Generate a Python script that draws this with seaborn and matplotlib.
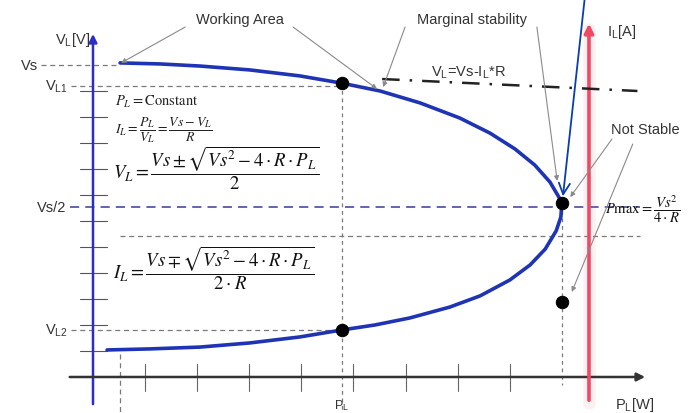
import matplotlib
matplotlib.use("Agg")
import matplotlib.pyplot as plt
import pandas as pd
import seaborn as sns

sns.set_theme(style="white")
plt.rcParams["font.family"] = ["Liberation Sans", "DejaVu Sans"]
plt.rcParams["mathtext.fontset"] = "stix"

# P-V nose curve of a source Vs feeding a constant-power load through R.
# P_L in tick units along the power axis, V_L in tick units along the voltage axis.
upper_p = [0.52, 1.29, 2.05, 3.01, 3.97, 4.78, 5.51, 6.28, 7.04, 7.62, 8.10, 8.48, 8.77, 8.93, 9.00]
upper_v = [12.08, 12.04, 11.96, 11.81, 11.58, 11.30, 11.00, 10.54, 9.96, 9.38, 8.77, 8.15, 7.50, 6.96, 6.70]
lower_p = [9.00, 8.98, 8.89, 8.68, 8.39, 8.00, 7.43, 6.85, 6.08, 5.41, 4.78, 3.97, 3.01, 2.05, 1.09, 0.27]
lower_v = [6.70, 6.15, 5.62, 4.92, 4.31, 3.73, 3.12, 2.69, 2.27, 2.00, 1.81, 1.54, 1.31, 1.15, 1.08, 1.04]

# characteristic levels
vs_level = 12.0
vl1_level = 11.2
vs_half = 6.54
aux_level = 5.42
vl2_level = 1.81
p_start = 0.52
p_load = 4.78
p_max = 9.0
i_axis_p = 9.52

# marked operating points: upper/lower solutions at P_L, nose, unstable point
op_p = [4.78, 4.78, 9.00, 9.00]
op_v = [11.30, 1.81, 6.70, 2.88]

p_ticks = [1, 2, 3, 4, 5, 6, 7, 8]
v_ticks = [1, 2, 3, 4, 5, 6, 7, 8, 9, 10, 11]

curve = pd.DataFrame({
    "P": upper_p + lower_p,
    "V": upper_v + lower_v,
    "order": range(len(upper_p) + len(lower_p)),
})
points = pd.DataFrame({"P": op_p, "V": op_v})

fig = plt.figure(figsize=(6.96, 4.14), dpi=100)
ax = fig.add_axes([0, 0, 1, 1])

gray = "#7a7a7a"
lead = "#8a8a8a"
blue_axis = "#2c2cc8"
curve_col = "#1e34b4"
red = "#ee4a64"

# reference levels
ax.plot([-1.0, p_start], [vs_level] * 2, ls=(0, (4, 3)), color=gray, lw=0.9, zorder=1)
ax.plot([-0.42, p_load], [vl1_level] * 2, ls=(0, (4, 3)), color=gray, lw=0.9, zorder=1)
ax.plot([-0.45, 10.5], [vs_half] * 2, ls=(0, (6, 4)), color="#3a3a9a", lw=1.1, zorder=1)
ax.plot([p_start, 10.5], [aux_level] * 2, ls=(0, (4, 3)), color=gray, lw=0.9, zorder=1)
ax.plot([-0.42, 4.95], [vl2_level] * 2, ls=(0, (4, 3)), color=gray, lw=0.9, zorder=1)
ax.plot([p_start] * 2, [0.9, -1.4], ls=(0, (4, 3)), color=gray, lw=0.9, zorder=1)
ax.plot([p_load] * 2, [op_v[0], -1.4], ls=(0, (3, 3)), color=gray, lw=0.9, zorder=1)
ax.plot([p_max] * 2, [op_v[2], -0.3], ls=(0, (3, 3)), color=gray, lw=0.9, zorder=1)

# ticks on both axes
for v in v_ticks:
    ax.plot([-0.25, 0.27], [v, v], color="#555555", lw=0.8, zorder=2)
for p in p_ticks:
    ax.plot([p, p], [0.5, -0.54], color="#666666", lw=0.8, zorder=2)

# axes with arrowheads
ax.annotate("", xy=(0, 13.3), xytext=(0, -1.15),
            arrowprops=dict(arrowstyle="-|>", color=blue_axis, lw=1.8, mutation_scale=12), zorder=3)
ax.annotate("", xy=(10.65, 0), xytext=(-0.5, 0),
            arrowprops=dict(arrowstyle="-|>", color="#333333", lw=1.8, mutation_scale=12), zorder=3)
ax.plot([i_axis_p] * 2, [-1.0, 13.4], color=red, lw=9, alpha=0.08, zorder=2)
ax.annotate("", xy=(i_axis_p, 13.7), xytext=(i_axis_p, -1.0),
            arrowprops=dict(arrowstyle="-|>", color=red, lw=2.6, mutation_scale=13), zorder=3)

# load line V_L = Vs - I_L*R
ax.plot([5.55, 10.45], [11.46, 11.0], color="#222222", lw=1.8,
        ls=(0, (7, 4, 1, 4)), zorder=3)

# nose curve and operating points
sns.lineplot(data=curve, x="P", y="V", sort=False, estimator=None,
             color=curve_col, lw=2.6, ax=ax, zorder=4)
sns.scatterplot(data=points, x="P", y="V", color="black", s=80,
                edgecolor="black", ax=ax, zorder=5)
ax.set_xlim(-1.785, 11.574)
ax.set_ylim(-1.385, 14.538)
ax.set_axis_off()

# leader arrows
leaders = [
    ((1.77, 13.46), (0.54, 12.08)),
    ((3.84, 13.46), (5.45, 11.08)),
    ((5.99, 13.46), (5.57, 11.15)),
    ((8.52, 13.46), (8.91, 7.54)),
    ((9.96, 9.15), (9.16, 6.92)),
    ((10.36, 8.96), (9.19, 3.27)),
]
for start, end in leaders:
    ax.annotate("", xy=end, xytext=start,
                arrowprops=dict(arrowstyle="-|>", color=lead, lw=0.8, mutation_scale=7,
                                shrinkA=0, shrinkB=0), zorder=6)

ax.annotate("", xy=(9.02, 6.95), xytext=(9.44, 14.6),
            arrowprops=dict(arrowstyle="->", color="#0a3cb4", lw=1.3, mutation_scale=20,
                            shrinkA=0, shrinkB=0), zorder=7)

# labels
fs = 10.5
ax.text(2.82, 13.77, "Working Area", ha="center", va="center", fontsize=fs, color="#333333")
ax.text(7.27, 13.77, "Marginal stability", ha="center", va="center", fontsize=fs, color="#333333")
ax.text(10.6, 9.54, "Not Stable", ha="center", va="center", fontsize=fs, color="#333333")
ax.text(7.2, 11.73, r"V$_\mathregular{L}$=Vs-I$_\mathregular{L}$*R", ha="center", va="center",
        fontsize=fs, color="#333333")
ax.text(-0.06, 13.0, r"V$_\mathregular{L}$[V]", ha="right", va="center", fontsize=fs, color="#333333")
ax.text(9.87, 13.3, r"I$_\mathregular{L}$[A]", ha="left", va="center", fontsize=fs, color="#333333")
ax.text(10.02, -1.04, r"P$_\mathregular{L}$[W]", ha="left", va="center", fontsize=fs, color="#333333")
ax.text(p_load, -1.36, r"P$_\mathregular{L}$", ha="center", va="bottom", fontsize=9, color="#333333")
ax.text(-1.06, vs_level, "Vs", ha="right", va="center", fontsize=fs, color="#333333")
ax.text(-0.48, vl1_level, r"V$_\mathregular{L1}$", ha="right", va="center", fontsize=fs, color="#333333")
ax.text(-0.52, vs_half, "Vs/2", ha="right", va="center", fontsize=fs, color="#333333")
ax.text(-0.48, vl2_level, r"V$_\mathregular{L2}$", ha="right", va="center", fontsize=fs, color="#333333")

# formulas
ax.text(0.42, 10.6, r"$P_L = \mathrm{Constant}$", ha="left", va="center", fontsize=10.5, color="#222222")
ax.text(0.42, 9.55, r"$I_L = \dfrac{P_L}{V_L} = \dfrac{Vs - V_L}{R}$", ha="left", va="center",
        fontsize=10, color="#222222")
ax.text(0.38, 8.08, r"$V_L = \dfrac{Vs \pm \sqrt{Vs^2 - 4\cdot R\cdot P_L}}{2}$", ha="left",
        va="center", fontsize=13.5, color="#111111")
ax.text(0.38, 4.23, r"$I_L = \dfrac{Vs \mp \sqrt{Vs^2 - 4\cdot R\cdot P_L}}{2\cdot R}$", ha="left",
        va="center", fontsize=13.5, color="#111111")
ax.text(9.83, 6.5, r"$P\mathrm{max} = \dfrac{Vs^2}{4\cdot R}$", ha="left", va="center",
        fontsize=10.5, color="#111111")

fig.savefig("out.png", dpi=100)
